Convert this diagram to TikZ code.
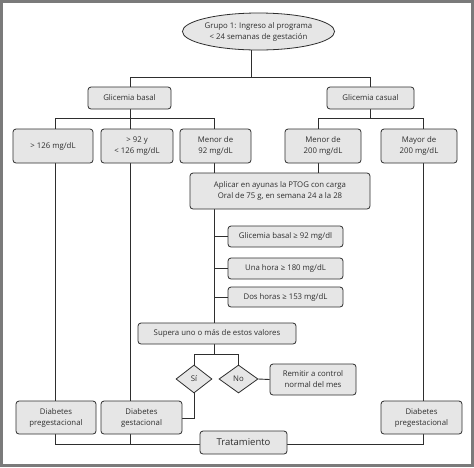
\documentclass[tikz,border=0pt]{standalone}
\usepackage{fontspec}
\setmainfont{Open Sans}
\usetikzlibrary{shapes.geometric,backgrounds}
\definecolor{ln}{HTML}{2E2E2E}
\definecolor{bx}{HTML}{E6E6E6}
\definecolor{fr}{HTML}{7A7A7A}
\begin{document}
\begin{tikzpicture}[x=1pt,y=-1pt,
  every node/.style={font=\fontsize{7.8}{11}\selectfont, text=ln, align=center, inner sep=0pt},
  fbox/.style={draw=ln, fill=bx, rounded corners=3pt, line width=0.8pt},
  conn/.style={draw=ln, line width=0.9pt},
  dia/.style={draw=ln, fill=bx, diamond, line width=0.8pt}]
\useasboundingbox (0,0) rectangle (474,467);
\draw[fr, line width=3pt] (1.5,1.5) rectangle (472.5,465.5);

\node[fbox, ellipse, rounded corners=0pt, minimum width=147pt, minimum height=37pt] (ell) at (258.5,31.5) {Grupo 1: Ingreso al programa\\< 24 semanas de gestación};
\node[fbox, minimum width=83pt, minimum height=22pt] (gb) at (129.5,98) {Glicemia basal};
\node[fbox, minimum width=87pt, minimum height=22pt] (gc) at (370.5,98) {Glicemia casual};
\node[fbox, minimum width=80pt, minimum height=34pt] (b1) at (53,146) {> 126 mg/dL};
\node[fbox, minimum width=72pt, minimum height=34pt] (b2) at (137,146) {> 92 y\\< 126 mg/dL};
\node[fbox, minimum width=71pt, minimum height=34pt] (b3) at (215.5,146) {Menor de\\92 mg/dL};
\node[fbox, minimum width=76pt, minimum height=34pt] (b4) at (323,146) {Menor de\\200 mg/dL};
\node[fbox, minimum width=76pt, minimum height=34pt] (b5) at (419,146) {Mayor de\\200 mg/dL};
\node[fbox, minimum width=180pt, minimum height=36pt] (ptog) at (280,191) {Aplicar en ayunas la PTOG con carga\\Oral de 75 g, en semana 24 a la 28};
\node[fbox, minimum width=115pt, minimum height=21pt] (g1) at (285.5,236.5) {Glicemia basal ≥ 92 mg/dl};
\node[fbox, minimum width=115pt, minimum height=21pt] (g2) at (285.5,268.5) {Una hora ≥ 180 mg/dL};
\node[fbox, minimum width=115pt, minimum height=20pt] (g3) at (285.5,297) {Dos horas ≥ 153 mg/dL};
\node[fbox, minimum width=158pt, minimum height=21pt] (sup) at (217,333.5) {Supera uno o más de estos valores};
\node[dia, minimum width=36pt, minimum height=28pt] (si) at (194,379) {Sí};
\node[dia, minimum width=39pt, minimum height=28pt] (no) at (238.5,379) {No};
\node[fbox, minimum width=86pt, minimum height=31pt] (rem) at (313,379.5) {Remitir a control\\normal del mes};
\node[fbox, minimum width=80pt, minimum height=33pt] (dp1) at (56,417.5) {Diabetes\\pregestacional};
\node[fbox, minimum width=81pt, minimum height=33pt] (dg) at (141.5,417.5) {Diabetes\\gestacional};
\node[fbox, minimum width=81pt, minimum height=33pt] (dp2) at (421.5,417.5) {Diabetes\\pregestacional};
\node[fbox, minimum width=87pt, minimum height=23pt, font=\fontsize{9.5}{11}\selectfont] (trat) at (243.5,442.5) {Tratamiento};

\coordinate (j0) at (251,77);
\coordinate (jl) at (130,77);
\coordinate (jr) at (370,77);
\coordinate (a1) at (55,118);
\coordinate (a2) at (130,118);
\coordinate (a3) at (214,118);
\coordinate (c1) at (318,118);
\coordinate (c2) at (423,118);
\coordinate (s1) at (214,354);
\coordinate (sl) at (194,354);
\coordinate (sr) at (238.5,354);
\coordinate (siy) at (194,418);
\coordinate (t1) at (55,444);
\coordinate (t2) at (130,444);
\coordinate (t3) at (423,444);

\begin{scope}[on background layer]
\fill[white] (3,3) rectangle (471,464);
\draw[conn] (j0 |- ell.south) -- (j0);
\draw[conn] (jl) -- (jr);
\draw[conn] (jl) -- (jl |- gb.north);
\draw[conn] (jr) -- (jr |- gc.north);
\draw[conn] (a2 |- gb.south) -- (a2);
\draw[conn] (a1) -- (a3);
\draw[conn] (a1) -- (a1 |- dp1.north);
\draw[conn] (a2) -- (a2 |- dg.north);
\draw[conn] (a3) -- (a3 |- ptog.north);
\draw[conn] (jr |- gc.south) -- (jr |- c1);
\draw[conn] (c1) -- (c2);
\draw[conn] (c1) -- (c1 |- ptog.north);
\draw[conn] (c2) -- (c2 |- dp2.north);
\draw[conn] (a3 |- ptog.south) -- (s1);
\draw[conn] (a3 |- g1.west) -- (g1.west);
\draw[conn] (a3 |- g2.west) -- (g2.west);
\draw[conn] (a3 |- g3.west) -- (g3.west);
\draw[conn] (sl) -- (sr);
\draw[conn] (sl) -- (si.north);
\draw[conn] (sr) -- (no.north);
\draw[conn] (no.east) -- (rem.west);
\draw[conn] (si.south) -- (siy) -- (siy -| dg.east);
\draw[conn] (t1 |- dp1.south) -- (t1) -- (t1 -| trat.west);
\draw[conn] (t2 |- dg.south) -- (t2);
\draw[conn] (trat.east |- t3) -- (t3) -- (t3 |- dp2.south);
\end{scope}
\end{tikzpicture}
\end{document}
